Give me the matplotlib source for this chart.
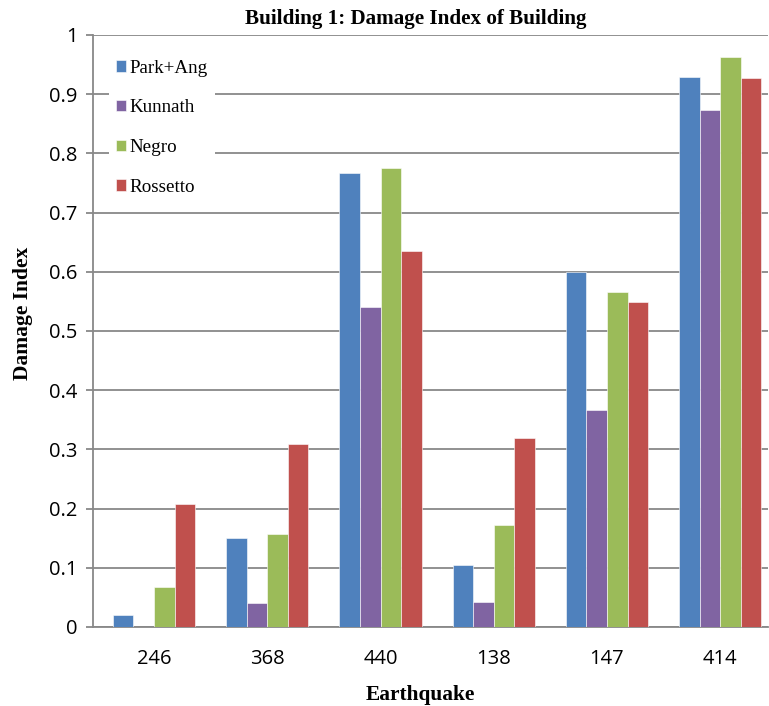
import matplotlib
matplotlib.use("Agg")
import matplotlib.pyplot as plt
import numpy as np

categories = ["246", "368", "440", "138", "147", "414"]
park_ang = [0.020, 0.150, 0.767, 0.104, 0.599, 0.929]
kunnath = [0.000, 0.040, 0.540, 0.042, 0.367, 0.874]
negro = [0.068, 0.157, 0.775, 0.172, 0.566, 0.962]
rossetto = [0.208, 0.309, 0.635, 0.320, 0.549, 0.928]
series_names = ["Park+Ang", "Kunnath", "Negro", "Rossetto"]
colors = ["#4F81BD", "#8064A2", "#9BBB59", "#C0504D"]
yticks = [0, 0.1, 0.2, 0.3, 0.4, 0.5, 0.6, 0.7, 0.8, 0.9, 1]
ytick_labels = ["0", "0.1", "0.2", "0.3", "0.4", "0.5", "0.6", "0.7", "0.8", "0.9", "1"]

W, H = 769, 706
fig = plt.figure(figsize=(W / 100, H / 100), dpi=100)
ax = fig.add_axes([93 / W, 1 - 627 / H, (768 - 93) / W, (627 - 35) / H])

x = np.arange(len(categories))
bw = 0.182
data = [park_ang, kunnath, negro, rossetto]
for i, (vals, name, c) in enumerate(zip(data, series_names, colors)):
    ax.bar(x + (i - 1.5) * bw, vals, bw, color=c, label=name,
           edgecolor="white", linewidth=0.4, zorder=3)

ax.set_xlim(-0.539, 5.422)
ax.set_ylim(0, 1)
ax.set_yticks(yticks)
ax.set_yticklabels(ytick_labels)
ax.set_xticks(x)
ax.set_xticklabels(categories)
ax.yaxis.grid(True, color="#888888", linewidth=1.3, zorder=0)
ax.set_axisbelow(True)
for s in ["top", "right"]:
    ax.spines[s].set_visible(False)
for s in ["left", "bottom"]:
    ax.spines[s].set_color("#888888")
    ax.spines[s].set_linewidth(1.3)
ax.tick_params(axis="y", length=5, width=1.3, color="#888888", pad=6,
               labelsize=14.5)
ax.tick_params(axis="x", length=0, pad=16, labelsize=14.5)
for lab in ax.get_xticklabels() + ax.get_yticklabels():
    lab.set_fontfamily("Open Sans")

serif = "Liberation Serif"
ax.set_title("Building 1: Damage Index of Building", fontfamily=serif,
             fontweight="bold", fontsize=15.2, pad=8, x=0.4785)
ax.set_xlabel("Earthquake", fontfamily=serif, fontweight="bold", fontsize=15.4,
              labelpad=14)
ax.xaxis.set_label_coords(0.485, -0.098)
ax.set_ylabel("Damage Index", fontfamily=serif, fontweight="bold", fontsize=15.5,
              labelpad=12)
ax.yaxis.label.set_y(0.53)

leg = ax.legend(loc="upper left", bbox_to_anchor=(0.024, 0.97),
                prop={"family": serif, "size": 13.7}, frameon=True,
                fancybox=False, edgecolor="none", facecolor="white",
                framealpha=1, handlelength=0.53, handleheight=0.53,
                handletextpad=0.16, labelspacing=1.19, borderpad=0.37,
                borderaxespad=0)

fig.savefig("out.png", dpi=100)
